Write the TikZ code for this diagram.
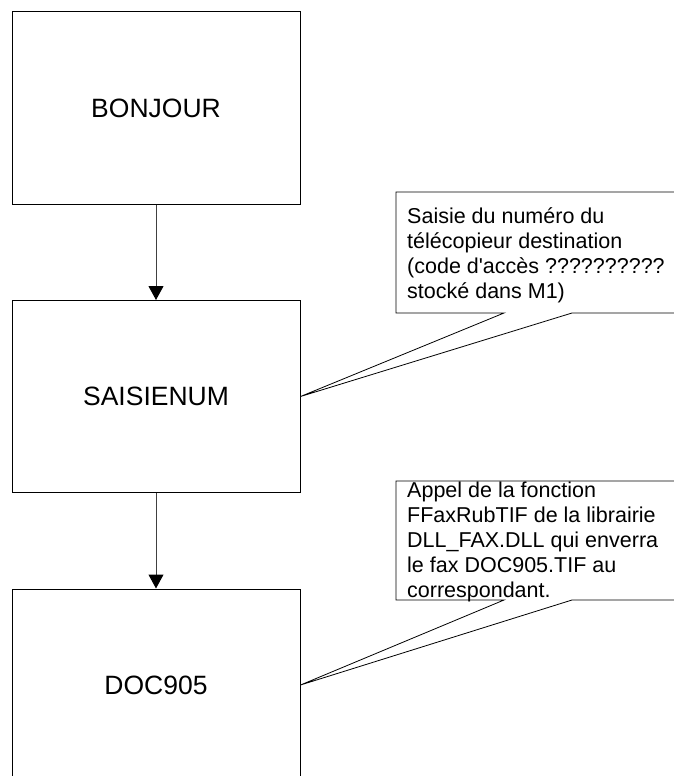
\documentclass[tikz,border=0pt]{standalone}
\usepackage{fontspec}
\setmainfont{Liberation Sans}
\usetikzlibrary{arrows.meta}
\tikzset{
  stepbox/.style={draw=black, line width=1pt, fill=white, minimum width=288pt, minimum height=192pt, inner sep=0pt, font=\fontsize{26.5}{30}\selectfont},
  flow/.style={draw=black!75, line width=1pt, -{Triangle[length=14pt,width=15pt,black]}},
  callout/.style={draw=black, line width=0.8pt, fill=white},
  notetext/.style={align=left, inner sep=0pt, font=\fontsize{21.5}{25}\selectfont}
}
\begin{document}
\begin{tikzpicture}[x=1pt,y=-1pt]
\useasboundingbox (0,0) rectangle (674,776);
\clip (0,0) rectangle (674,776);
\node[stepbox] (bonjour) at (156,108) {BONJOUR};
\node[stepbox] (saisie) at (156,396.5) {SAISIENUM};
\node[stepbox] (doc) at (156,685) {DOC905};
\draw[flow] (bonjour.south) -- (saisie.north);
\draw[flow] (saisie.south) -- (doc.north);
% callout 1
\coordinate (tip1) at (saisie.east);
\draw[callout] (396,192) -- (700,192) -- (700,313) -- (572,313) -- (tip1) -- (504,313) -- (396,313) -- cycle;
\node[notetext, anchor=base west] (note1) at (407,298) {Saisie du numéro du\\télécopieur destination\\(code d\textquotesingle accès ??????????\\stocké dans M1)};
% callout 2
\coordinate (tip2) at (doc.east);
\draw[callout] (396,481) -- (700,481) -- (700,600) -- (572,600) -- (tip2) -- (504,600) -- (396,600) -- cycle;
\node[notetext, anchor=base west] (note2) at (407,597) {Appel de la fonction\\FFaxRubTIF de la librairie\\DLL\_FAX.DLL qui enverra\\le fax DOC905.TIF au\\correspondant.};
\end{tikzpicture}
\end{document}
